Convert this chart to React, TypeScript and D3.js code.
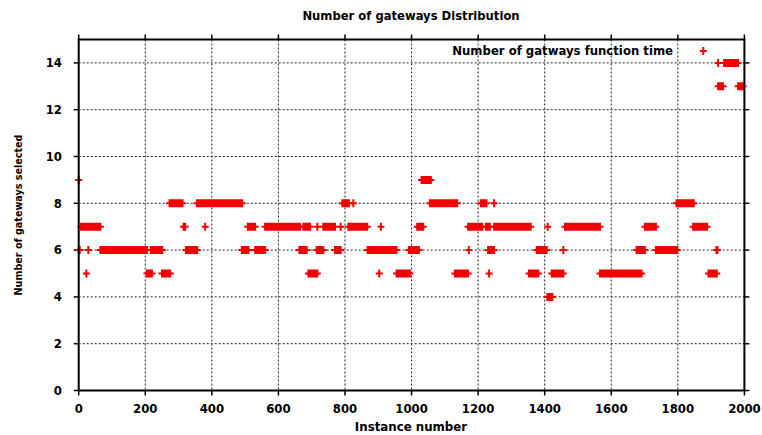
import React from "react";
import * as d3 from "d3";

// Runs of consecutive instances sharing the same number of gateways: [start, end]
const runs4: [number, number][] = [[1408, 1423]];
const runs5: [number, number][] = [
  [23, 23], [205, 220], [250, 275], [690, 717], [903, 903], [955, 995],
  [1130, 1170], [1233, 1233], [1353, 1381], [1421, 1456], [1566, 1691], [1892, 1917],
];
const runs6: [number, number][] = [
  [0, 3], [29, 29], [65, 205], [217, 251], [322, 356], [490, 510], [530, 560],
  [663, 685], [715, 735], [770, 787], [868, 905], [910, 955], [992, 1022],
  [1172, 1172], [1230, 1248], [1376, 1406], [1456, 1456], [1676, 1701],
  [1734, 1798], [1916, 1919],
];
const runs7: [number, number][] = [
  [7, 65], [315, 320], [380, 380], [508, 530], [560, 665], [675, 695], [717, 717],
  [735, 770], [787, 787], [810, 867], [908, 908], [1017, 1035], [1170, 1212],
  [1223, 1235], [1248, 1358], [1409, 1409], [1461, 1566], [1701, 1734], [1846, 1888],
];
const runs8: [number, number][] = [
  [273, 312], [355, 491], [792, 812], [825, 825], [1055, 1137], [1208, 1225],
  [1248, 1248], [1796, 1848],
];
const runs9: [number, number][] = [[0, 0], [1030, 1058]];
const runs13: [number, number][] = [[1921, 1936], [1981, 1996]];
const runs14: [number, number][] = [[1921, 1921], [1939, 1981]];

const seriesValues = [4, 5, 6, 7, 8, 9, 13, 14];
const seriesRuns = [runs4, runs5, runs6, runs7, runs8, runs9, runs13, runs14];

const xTicks = [0, 200, 400, 600, 800, 1000, 1200, 1400, 1600, 1800, 2000];
const yTicks = [0, 2, 4, 6, 8, 10, 12, 14];

const title = "Number of gateways Distribution";
const xLabel = "Instance number";
const yLabel = "Number of gateways selected";
const legendLabel = "Number of gatways function time";

const W = 762;
const H = 435;
const L = 78.7;
const R = 744.4;
const T = 39.5;
const B = 390.5;
const FONT = "'DejaVu Sans', sans-serif";
const RED = "#f00000";

function plusPath(px: number, py: number): string {
  return `M${px - 3.5},${py}h7M${px},${py - 4}v8`;
}

export default function App() {
  const x = d3.scaleLinear().domain([0, 2000]).range([L, R]);
  const y = d3.scaleLinear().domain([0, 15]).range([B, T]);

  const markPaths: string[] = [];
  seriesRuns.forEach((runs, si) => {
    const v = seriesValues[si];
    runs.forEach(([s, e]) => {
      let d = "";
      for (let i = s; i <= e; i++) d += plusPath(x(i), y(v));
      markPaths.push(d);
    });
  });

  return (
    <svg
      width={W}
      height={H}
      style={{ position: "absolute", left: 0, top: 0, background: "#fff" }}
      fontFamily={FONT}
      fontWeight="bold"
    >
      <rect x={0} y={0} width={W} height={H} fill="#fff" />
      {/* grid */}
      <g stroke="#222" strokeWidth={1} strokeDasharray="2,2" fill="none">
        {xTicks.slice(1, -1).map((t) => (
          <line key={"gx" + t} x1={x(t)} x2={x(t)} y1={T} y2={B} />
        ))}
        {yTicks.slice(1).map((t) => (
          <line key={"gy" + t} x1={L} x2={R} y1={y(t)} y2={y(t)} />
        ))}
      </g>
      {/* ticks */}
      <g stroke="#000" strokeWidth={1.5}>
        {xTicks.map((t) => (
          <g key={"tx" + t}>
            <line x1={x(t)} x2={x(t)} y1={B} y2={B + 5} />
            <line x1={x(t)} x2={x(t)} y1={T} y2={T - 5} />
          </g>
        ))}
        {yTicks.map((t) => (
          <g key={"ty" + t}>
            <line x1={L} x2={L - 5} y1={y(t)} y2={y(t)} />
            <line x1={R} x2={R + 5} y1={y(t)} y2={y(t)} />
          </g>
        ))}
      </g>
      {/* marks */}
      <g stroke={RED} strokeWidth={2} fill="none">
        {markPaths.map((d, i) => (
          <path key={i} d={d} />
        ))}
      </g>
      {/* border */}
      <rect x={L} y={T} width={R - L} height={B - T} fill="none" stroke="#000" strokeWidth={2} />
      {/* tick labels */}
      <g fontSize={11.7} fill="#000">
        {xTicks.map((t) => (
          <text key={"lx" + t} x={x(t)} y={413} textAnchor="middle">
            {t}
          </text>
        ))}
        {yTicks.map((t) => (
          <text key={"ly" + t} x={62} y={y(t) + 4.2} textAnchor="end">
            {t}
          </text>
        ))}
      </g>
      {/* titles */}
      <text x={411} y={19.5} textAnchor="middle" fontSize={11.6} fill="#000">
        {title}
      </text>
      <text x={411} y={431} textAnchor="middle" fontSize={11.8} fill="#000">
        {xLabel}
      </text>
      <text
        transform={`translate(22,215) rotate(-90)`}
        textAnchor="middle"
        fontSize={9.6}
        fill="#000"
      >
        {yLabel}
      </text>
      {/* legend */}
      <text x={673} y={55} textAnchor="end" fontSize={11.7} fill="#000">
        {legendLabel}
      </text>
      <path d={plusPath(703.3, 51)} stroke={RED} strokeWidth={2} fill="none" />
    </svg>
  );
}
